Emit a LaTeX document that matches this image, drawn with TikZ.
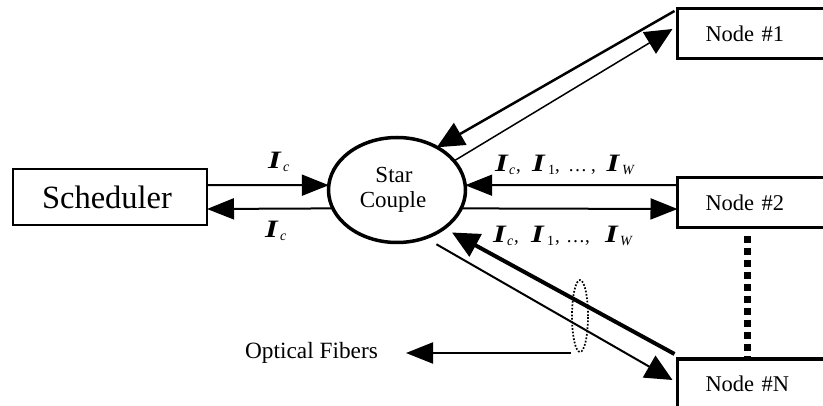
\documentclass[tikz,border=0pt]{standalone}
\usepackage{fontspec}
\usepackage{graphicx}
\setmainfont{Liberation Serif}
\usetikzlibrary{arrows.meta,shapes.geometric}
\newcommand{\lam}{\scalebox{1.3}[1]{\fontsize{25}{25}\selectfont\bfseries\itshape I}}
\newcommand{\subc}{\raisebox{-3pt}{\fontsize{14}{14}\selectfont\itshape c}}
\newcommand{\subw}{\raisebox{-3pt}{\fontsize{14}{14}\selectfont\itshape W}}
\newcommand{\subo}{\raisebox{-3pt}{\fontsize{14}{14}\selectfont 1}}
\newcommand{\seg}[2]{\makebox[#1pt][l]{#2}}
\tikzset{
  sbox/.style={draw,line width=2.5pt,rectangle,outer sep=0pt,inner sep=0pt,minimum width=194pt,minimum height=56pt,font=\fontsize{32.5}{32}\selectfont},
  nbox/.style={draw,line width=3.5pt,rectangle,outer sep=0pt,inner xsep=28pt,inner ysep=0pt,text width=97pt,align=left,minimum height=50pt,font=\fontsize{22.5}{24}\selectfont},
  cpl/.style={draw,line width=3.5pt,ellipse,outer sep=0pt,inner sep=0pt,minimum width=137pt,minimum height=105pt,align=center,font=\fontsize{23}{25}\selectfont},
  conn/.style={line width=#1,-{Triangle[length=27pt,width=21pt]}},
  conn/.default=2pt,
  diag/.style={line width=#1,-{Triangle[length=27pt,width=25pt]}},
  lbl/.style={anchor=base west,inner sep=0pt,font=\fontsize{19}{24}\selectfont},
  captext/.style={inner sep=0pt,font=\fontsize{23.3}{24}\selectfont},
  bundle/.style={draw,ellipse,line width=1.7pt,dash pattern=on 1.7pt off 1.7pt,outer sep=0pt,inner sep=0pt,minimum width=16pt,minimum height=72pt},
  vdots/.style={line width=7pt,dash pattern=on 7pt off 5pt}
}
\begin{document}
\begin{tikzpicture}[x=1pt,y=-1pt]
\useasboundingbox (0,0) rectangle (823,406);
\node[sbox] (sched) at (110,197) {\hspace*{-6pt}\raisebox{-2pt}{Scheduler}};
\node[cpl] (star) at (397,190) {\hspace*{-6pt}Star\\\hspace*{-8pt}Couple};
\node[nbox] (n1) at (754,33.5) {\raisebox{-2pt}{Node \#1}};
\node[nbox] (n2) at (754,202.5) {Node \#2};
\node[nbox] (nN) at (754,384) {Node \#N};
\node[bundle] (fib) at (580,316) {};
\node[captext] (opt) at (311.5,353) {Optical Fibers};
% scheduler <-> star
\draw[conn] ([yshift=12pt]sched.east) -- (star.176);
\draw[conn] (star.196) -- ([yshift=-12pt]sched.east);
% node 2 <-> star
\draw[conn] ([yshift=17.5pt]n2.west) -- (star.4);
\draw[conn] (star.-16) -- ([yshift=-6.5pt]n2.west);
% node 1 <-> star
\draw[diag=2.5pt] ([xshift=-3pt,yshift=-2.5pt]n1.north west) -- (star.47);
\draw[diag=1.5pt] (star.27) -- ([xshift=-5pt,yshift=4.5pt]n1.west);
% node N <-> star
\draw[diag=4pt] ([xshift=-3pt,yshift=5pt]nN.north west) -- ([xshift=7pt,yshift=-5pt]star.-38);
\draw[diag=2pt] ([xshift=7pt,yshift=-8pt]star.-55) -- ([xshift=-5pt,yshift=-21pt]nN.north west);
% fibers
\draw[conn] ([xshift=-9pt,yshift=-1pt]fib.south) -- ([xshift=28pt]opt.east);
% dotted link
\draw[vdots] ([xshift=-7pt,yshift=-9pt]n2.south) -- ([xshift=-7pt]nN.north);
% labels
\node[lbl] (l1) at (268,169) {\seg{15}{\lam}\subc};
\node[lbl] (l2) at (265,238) {\seg{15}{\lam}\subc};
\node[lbl] (l3) at (495,172) {\seg{14}{\lam}\seg{7}{\subc}\seg{16}{,}\seg{16}{\lam}\seg{7}{\subo}\seg{13}{,}\seg{23}{…}\seg{15.5}{,}\seg{15.5}{\lam}\subw};
\node[lbl] (l4) at (493,243) {\seg{14}{\lam}\seg{7}{\subc}\seg{17}{,}\seg{16}{\lam}\seg{8}{\subo}\seg{11}{,}\seg{19}{…}\seg{20}{,}\seg{15}{\lam}\subw};
\end{tikzpicture}
\end{document}
